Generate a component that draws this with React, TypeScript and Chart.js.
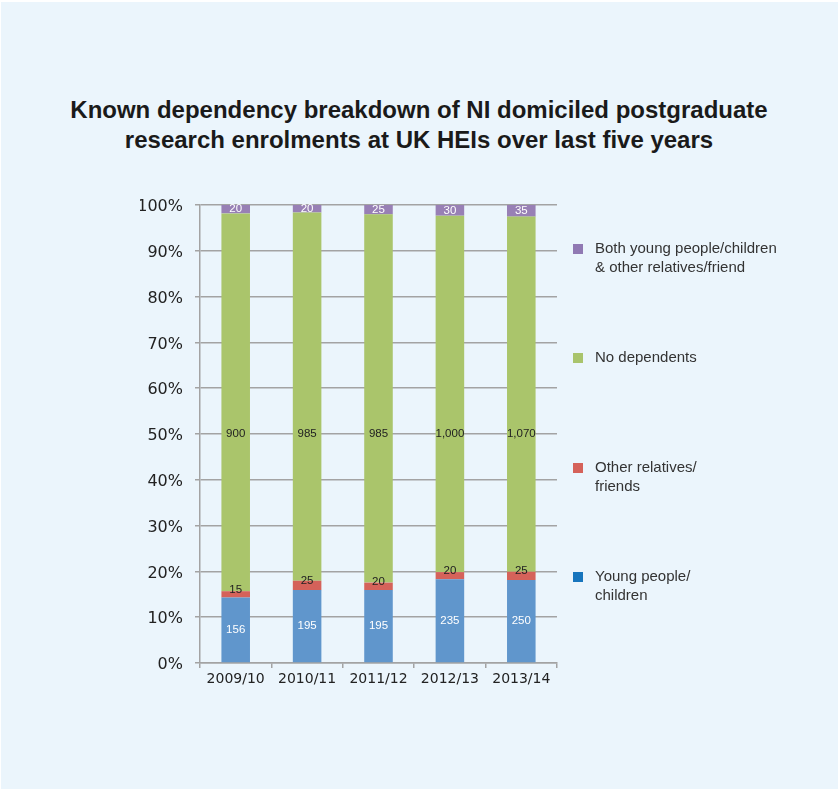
import React, { useEffect, useRef } from "react";
import { Chart, registerables } from "chart.js";

Chart.register(...registerables);

const TITLE_LINES = [
  "Known dependency breakdown of NI domiciled postgraduate",
  "research enrolments at UK HEIs over last five years",
];
const CATEGORIES = ["2009/10", "2010/11", "2011/12", "2012/13", "2013/14"];
const YOUNG = [156, 195, 195, 235, 250];
const OTHER = [15, 25, 20, 20, 25];
const NONE = [900, 985, 985, 1000, 1070];
const BOTH = [20, 20, 25, 30, 35];
const Y_TICKS = [0, 10, 20, 30, 40, 50, 60, 70, 80, 90, 100];

const LEGEND = [
  { lines: ["Both young people/children", "& other relatives/friend"], color: "#9079B3", top: 244 },
  { lines: ["No dependents"], color: "#A9C46C", top: 353 },
  { lines: ["Other relatives/", "friends"], color: "#D5625A", top: 463 },
  { lines: ["Young people/", "children"], color: "#1775BD", top: 572 },
];

const totals = CATEGORIES.map((_, i) => YOUNG[i] + OTHER[i] + NONE[i] + BOTH[i]);
const pct = (arr: number[]) => arr.map((v, i) => (v / totals[i]) * 100);
const fmt = (v: number) => v.toLocaleString("en-GB");

const labelPlugin = {
  id: "segLabels",
  afterDatasetsDraw(chart: any) {
    const ctx = chart.ctx;
    const yScale = chart.scales.y;
    chart.data.datasets.forEach((ds: any, di: number) => {
      const meta = chart.getDatasetMeta(di);
      meta.data.forEach((el: any, i: number) => {
        const raw = ds.raw[i];
        let y = (el.y + el.base) / 2;
        if (ds.labelMode === "mid") y = yScale.getPixelForValue(50);
        y += ds.labelOffset || 0;
        ctx.save();
        ctx.font = "11.5px 'Liberation Sans', Arial, sans-serif";
        ctx.fillStyle = ds.labelColor;
        ctx.textAlign = "center";
        ctx.textBaseline = "middle";
        ctx.fillText(fmt(raw), el.x, y);
        ctx.restore();
      });
    });
  },
};

export default function App() {
  const ref = useRef<HTMLCanvasElement>(null);
  useEffect(() => {
    if (!ref.current) return;
    const grid = "#A3A3A3";
    const chart = new Chart(ref.current, {
      type: "bar",
      data: {
        labels: CATEGORIES,
        datasets: [
          { label: "Young people/children", data: pct(YOUNG), raw: YOUNG, backgroundColor: "#6096CC", labelColor: "#FFFFFF" },
          { label: "Other relatives/friends", data: pct(OTHER), raw: OTHER, backgroundColor: "#D5625A", labelColor: "#222222", labelOffset: -5 },
          { label: "No dependents", data: pct(NONE), raw: NONE, backgroundColor: "#AAC56B", labelColor: "#222222", labelMode: "mid" },
          { label: "Both young people/children & other relatives/friend", data: pct(BOTH), raw: BOTH, backgroundColor: "#9880B5", labelColor: "#FFFFFF" },
        ] as any,
      },
      options: {
        animation: false,
        responsive: false,
        maintainAspectRatio: false,
        layout: { padding: { left: 140, right: 281, top: 205, bottom: 88 } },
        datasets: { bar: { categoryPercentage: 1, barPercentage: 0.4 } },
        plugins: { legend: { display: false }, title: { display: false }, tooltip: { enabled: false } },
        scales: {
          x: {
            stacked: true,
            afterFit: (s: any) => { s.height = 40; },
            grid: { display: true, drawOnChartArea: false, offset: true, color: grid, lineWidth: 1.5, tickLength: 5 },
            border: { color: grid, width: 1.5 },
            ticks: { color: "#222", padding: 3, font: { family: "'DejaVu Sans', sans-serif", size: 14 } },
          },
          y: {
            stacked: true,
            min: 0,
            max: 100,
            afterFit: (s: any) => { s.width = 60; },
            afterBuildTicks: (s: any) => { s.ticks = Y_TICKS.map((v) => ({ value: v })); },
            grid: { color: grid, lineWidth: 1.5, tickLength: 5 },
            border: { color: grid, width: 1.5 },
            ticks: { color: "#222", padding: 12, labelOffset: 2, font: { family: "'DejaVu Sans', sans-serif", size: 16 }, callback: (v: any) => v + "%" },
          },
        },
      } as any,
      plugins: [labelPlugin],
    });
    return () => chart.destroy();
  }, []);

  return (
    <div style={{ position: "fixed", left: 0, top: 0, width: 838, height: 791, background: "#FFFFFF", overflow: "hidden" }}>
      <div style={{ position: "absolute", left: 1, top: 2, width: 837, height: 787, background: "#EBF5FC" }} />
      <div style={{ position: "absolute", left: 0, top: 95, width: 838, textAlign: "center", fontFamily: "'Liberation Sans', Arial, sans-serif", fontWeight: "bold", fontSize: 24, lineHeight: "30px", color: "#1A1A1A" }}>
        {TITLE_LINES.map((l, i) => <div key={i}>{l}</div>)}
      </div>
      <canvas ref={ref} width={838} height={791} style={{ position: "absolute", left: 0, top: 0, width: 838, height: 791 }} />
      {LEGEND.map((item, i) => (
        <div key={i} style={{ position: "absolute", left: 573, top: item.top, fontFamily: "'Liberation Sans', Arial, sans-serif", fontSize: 15, color: "#333" }}>
          <div style={{ position: "absolute", left: 0, top: 0, width: 10, height: 10, background: item.color }} />
          <div style={{ position: "absolute", left: 22, top: -6, lineHeight: "19px", whiteSpace: "nowrap" }}>
            {item.lines.map((l, j) => <div key={j}>{l}</div>)}
          </div>
        </div>
      ))}
    </div>
  );
}
